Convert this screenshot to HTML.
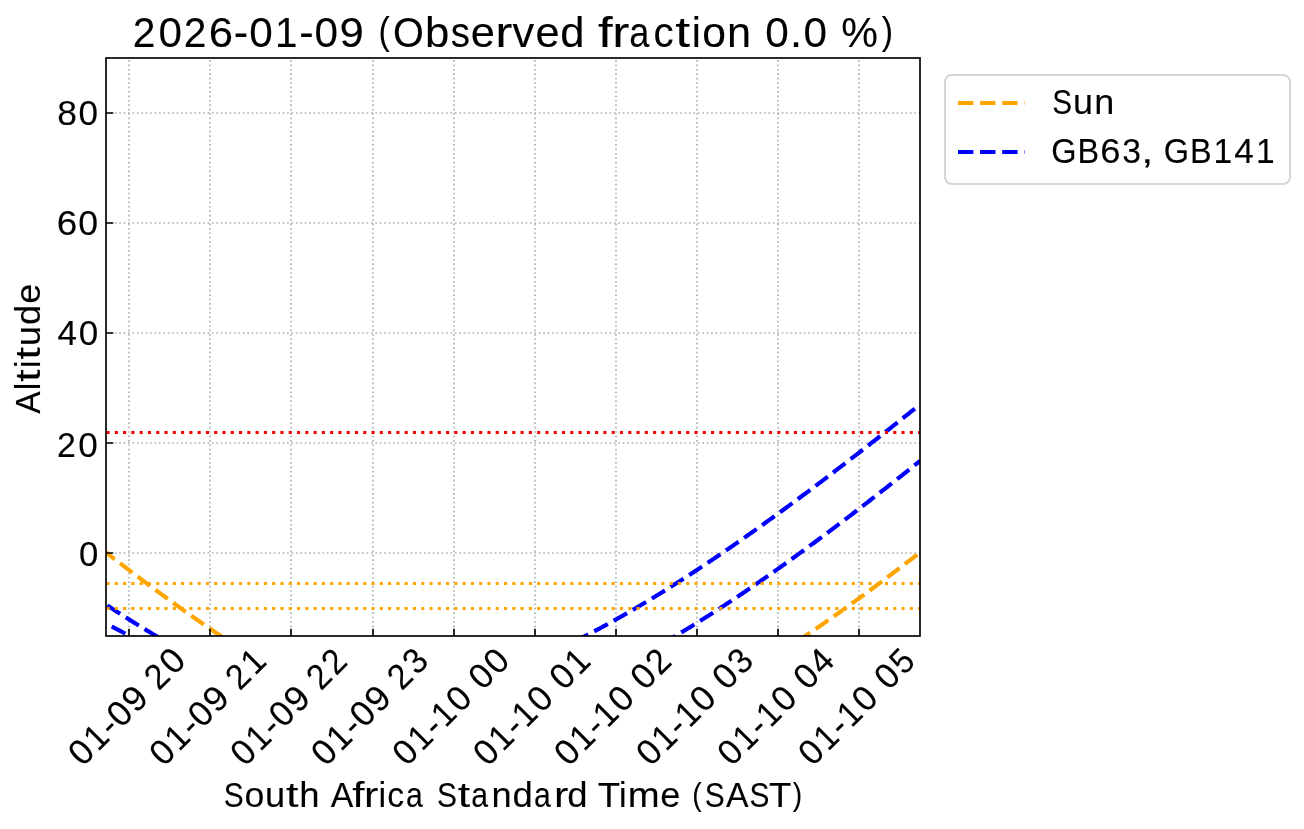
<!DOCTYPE html>
<html><head><meta charset="utf-8"><title>2026-01-09 (Observed fraction 0.0 %)</title>
<style>html,body{margin:0;padding:0;background:#fff;width:1304px;height:829px;overflow:hidden}
svg{will-change:transform}
svg text{font-family:"Liberation Sans",sans-serif;stroke:#000;stroke-width:0.1px}</style></head>
<body>
<svg width="1304" height="829" viewBox="0 0 1304 829" style="display:block">
<rect width="1304" height="829" fill="#fff"/>
<defs><clipPath id="ax"><rect x="106.0" y="58.0" width="814.0" height="578.0"/></clipPath></defs>
<path d="M129 636.0V58.0M210 636.0V58.0M291 636.0V58.0M373 636.0V58.0M454 636.0V58.0M535 636.0V58.0M616 636.0V58.0M697 636.0V58.0M778 636.0V58.0M859 636.0V58.0M105.95 553H920.0M105.95 443H920.0M105.95 333H920.0M105.95 223H920.0M105.95 113H920.0" stroke="#b0b0b0" stroke-width="1.667" stroke-dasharray="1.667 2.75" fill="none"/>
<g clip-path="url(#ax)">
<path d="M106.00 552.46 106.99 553.23 107.99 554.00 108.98 554.76 109.97 555.53 110.96 556.29 111.96 557.06 112.95 557.82 113.94 558.59 114.93 559.35 115.93 560.11 116.92 560.87 117.91 561.63 118.90 562.39 119.90 563.15 120.89 563.91 121.88 564.67 122.87 565.42 123.87 566.18 124.86 566.94 125.85 567.69 126.84 568.44 127.84 569.20 128.83 569.95 129.82 570.70 130.81 571.45 131.81 572.20 132.80 572.95 133.79 573.70 134.79 574.45 135.78 575.20 136.77 575.95 137.76 576.69 138.76 577.44 139.75 578.18 140.74 578.93 141.73 579.67 142.73 580.41 143.72 581.15 144.71 581.89 145.70 582.63 146.70 583.37 147.69 584.11 148.68 584.85 149.67 585.58 150.67 586.32 151.66 587.05 152.65 587.79 153.64 588.52 154.64 589.26 155.63 589.99 156.62 590.72 157.61 591.45 158.61 592.18 159.60 592.91 160.59 593.63 161.59 594.36 162.58 595.09 163.57 595.81 164.56 596.53 165.56 597.26 166.55 597.98 167.54 598.70 168.53 599.42 169.53 600.14 170.52 600.86 171.51 601.58 172.50 602.30 173.50 603.01 174.49 603.73 175.48 604.44 176.47 605.15 177.47 605.87 178.46 606.58 179.45 607.29 180.44 608.00 181.44 608.71 182.43 609.41 183.42 610.12 184.41 610.83 185.41 611.53 186.40 612.23 187.39 612.94 188.39 613.64 189.38 614.34 190.37 615.04 191.36 615.74 192.36 616.44 193.35 617.13 194.34 617.83 195.33 618.52 196.33 619.22 197.32 619.91 198.31 620.60 199.30 621.29 200.30 621.98 201.29 622.67 202.28 623.36 203.27 624.04 204.27 624.73 205.26 625.41 206.25 626.10 207.24 626.78 208.24 627.46 209.23 628.14 210.22 628.82 211.21 629.50 212.21 630.17 213.20 630.85 214.19 631.52 215.19 632.20 216.18 632.87 217.17 633.54 218.16 634.21 219.16 634.88 220.15 635.55 221.14 636.21 222.13 636.88 223.13 637.54 224.12 638.20 225.11 638.87 226.10 639.53 227.10 640.19 228.09 640.84 229.08 641.50 230.07 642.16 231.07 642.81 232.06 643.46 233.05 644.12 234.04 644.77 235.04 645.42 236.03 646.06 237.02 646.71 238.01 647.36 239.01 648.00 240.00 648.64" stroke="#ffa500" stroke-width="4.167" stroke-dasharray="15.417 6.667" stroke-dashoffset="4.34" fill="none"/>
<path d="M790.00 646.05 790.99 645.40 791.98 644.75 792.98 644.10 793.97 643.45 794.96 642.80 795.95 642.15 796.95 641.49 797.94 640.83 798.93 640.17 799.92 639.52 800.92 638.86 801.91 638.19 802.90 637.53 803.89 636.87 804.89 636.20 805.88 635.54 806.87 634.87 807.86 634.20 808.85 633.53 809.85 632.86 810.84 632.19 811.83 631.51 812.82 630.84 813.82 630.16 814.81 629.49 815.80 628.81 816.79 628.13 817.79 627.45 818.78 626.77 819.77 626.09 820.76 625.41 821.76 624.72 822.75 624.04 823.74 623.35 824.73 622.66 825.73 621.98 826.72 621.29 827.71 620.60 828.70 619.90 829.69 619.21 830.69 618.52 831.68 617.82 832.67 617.13 833.66 616.43 834.66 615.73 835.65 615.03 836.64 614.33 837.63 613.63 838.63 612.93 839.62 612.23 840.61 611.53 841.60 610.82 842.60 610.12 843.59 609.41 844.58 608.70 845.57 607.99 846.56 607.28 847.56 606.57 848.55 605.86 849.54 605.15 850.53 604.44 851.53 603.72 852.52 603.01 853.51 602.29 854.50 601.58 855.50 600.86 856.49 600.14 857.48 599.42 858.47 598.70 859.47 597.98 860.46 597.26 861.45 596.53 862.44 595.81 863.44 595.08 864.43 594.36 865.42 593.63 866.41 592.90 867.40 592.18 868.40 591.45 869.39 590.72 870.38 589.99 871.37 589.26 872.37 588.52 873.36 587.79 874.35 587.06 875.34 586.32 876.34 585.59 877.33 584.85 878.32 584.11 879.31 583.37 880.31 582.63 881.30 581.89 882.29 581.15 883.28 580.41 884.27 579.67 885.27 578.93 886.26 578.18 887.25 577.44 888.24 576.70 889.24 575.95 890.23 575.20 891.22 574.46 892.21 573.71 893.21 572.96 894.20 572.21 895.19 571.46 896.18 570.71 897.18 569.96 898.17 569.20 899.16 568.45 900.15 567.70 901.15 566.94 902.14 566.19 903.13 565.43 904.12 564.67 905.11 563.91 906.11 563.16 907.10 562.40 908.09 561.64 909.08 560.88 910.08 560.12 911.07 559.36 912.06 558.59 913.05 557.83 914.05 557.07 915.04 556.30 916.03 555.54 917.02 554.77 918.02 554.00 919.01 553.24 920.00 552.47" stroke="#ffa500" stroke-width="4.167" stroke-dasharray="15.417 6.667" stroke-dashoffset="13.35" fill="none"/>
<path d="M106.00 604.63 106.98 605.28 107.97 605.92 108.95 606.56 109.94 607.20 110.92 607.84 111.91 608.48 112.89 609.12 113.88 609.76 114.86 610.39 115.85 611.03 116.83 611.66 117.82 612.30 118.80 612.93 119.78 613.56 120.77 614.19 121.75 614.81 122.74 615.44 123.72 616.07 124.71 616.69 125.69 617.31 126.68 617.94 127.66 618.56 128.65 619.18 129.63 619.79 130.62 620.41 131.60 621.03 132.58 621.64 133.57 622.26 134.55 622.87 135.54 623.48 136.52 624.09 137.51 624.70 138.49 625.30 139.48 625.91 140.46 626.51 141.45 627.12 142.43 627.72 143.42 628.32 144.40 628.92 145.38 629.52 146.37 630.12 147.35 630.71 148.34 631.30 149.32 631.90 150.31 632.49 151.29 633.08 152.28 633.67 153.26 634.26 154.25 634.84 155.23 635.43 156.22 636.01 157.20 636.59 158.18 637.17 159.17 637.75 160.15 638.33 161.14 638.91 162.12 639.48 163.11 640.05 164.09 640.63 165.08 641.20 166.06 641.77 167.05 642.33 168.03 642.90 169.02 643.47 170.00 644.03" stroke="#00f" stroke-width="4.167" stroke-dasharray="15.417 6.667" stroke-dashoffset="20.64" fill="none"/>
<path d="M106.00 623.29 106.98 623.83 107.96 624.37 108.93 624.90 109.91 625.43 110.89 625.96 111.87 626.49 112.84 627.02 113.82 627.55 114.80 628.08 115.78 628.60 116.76 629.12 117.73 629.64 118.71 630.16 119.69 630.68 120.67 631.20 121.64 631.71 122.62 632.23 123.60 632.74 124.58 633.25 125.56 633.76 126.53 634.27 127.51 634.77 128.49 635.28 129.47 635.78 130.44 636.28 131.42 636.78 132.40 637.28 133.38 637.78 134.36 638.27 135.33 638.77 136.31 639.26 137.29 639.75 138.27 640.24 139.24 640.73 140.22 641.21 141.20 641.70 142.18 642.18 143.16 642.66 144.13 643.14 145.11 643.62 146.09 644.10 147.07 644.57 148.04 645.04 149.02 645.52 150.00 645.99" stroke="#00f" stroke-width="4.167" stroke-dasharray="15.417 6.667" stroke-dashoffset="15.54" fill="none"/>
<path d="M570.00 643.62 571.00 643.13 571.99 642.64 572.99 642.15 573.99 641.66 574.99 641.17 575.98 640.67 576.98 640.17 577.98 639.67 578.97 639.17 579.97 638.67 580.97 638.17 581.97 637.66 582.96 637.15 583.96 636.64 584.96 636.13 585.95 635.62 586.95 635.11 587.95 634.59 588.95 634.08 589.94 633.56 590.94 633.04 591.94 632.52 592.93 631.99 593.93 631.47 594.93 630.94 595.93 630.41 596.92 629.88 597.92 629.35 598.92 628.82 599.91 628.29 600.91 627.75 601.91 627.21 602.91 626.68 603.90 626.14 604.90 625.60 605.90 625.05 606.89 624.51 607.89 623.96 608.89 623.42 609.89 622.87 610.88 622.32 611.88 621.76 612.88 621.21 613.87 620.66 614.87 620.10 615.87 619.54 616.87 618.99 617.86 618.43 618.86 617.86 619.86 617.30 620.85 616.74 621.85 616.17 622.85 615.60 623.85 615.03 624.84 614.47 625.84 613.89 626.84 613.32 627.83 612.75 628.83 612.17 629.83 611.60 630.83 611.02 631.82 610.44 632.82 609.86 633.82 609.28 634.81 608.69 635.81 608.11 636.81 607.52 637.81 606.93 638.80 606.35 639.80 605.76 640.80 605.17 641.79 604.57 642.79 603.98 643.79 603.38 644.79 602.79 645.78 602.19 646.78 601.59 647.78 600.99 648.77 600.39 649.77 599.79 650.77 599.18 651.77 598.58 652.76 597.97 653.76 597.37 654.76 596.76 655.75 596.15 656.75 595.54 657.75 594.93 658.75 594.31 659.74 593.70 660.74 593.08 661.74 592.46 662.74 591.85 663.73 591.23 664.73 590.61 665.73 589.99 666.72 589.36 667.72 588.74 668.72 588.11 669.72 587.49 670.71 586.86 671.71 586.23 672.71 585.60 673.70 584.97 674.70 584.34 675.70 583.71 676.70 583.07 677.69 582.44 678.69 581.80 679.69 581.17 680.68 580.53 681.68 579.89 682.68 579.25 683.68 578.61 684.67 577.96 685.67 577.32 686.67 576.67 687.66 576.03 688.66 575.38 689.66 574.73 690.66 574.08 691.65 573.43 692.65 572.78 693.65 572.13 694.64 571.48 695.64 570.82 696.64 570.17 697.64 569.51 698.63 568.86 699.63 568.20 700.63 567.54 701.62 566.88 702.62 566.22 703.62 565.56 704.62 564.89 705.61 564.23 706.61 563.56 707.61 562.90 708.60 562.23 709.60 561.56 710.60 560.89 711.60 560.22 712.59 559.55 713.59 558.88 714.59 558.21 715.58 557.54 716.58 556.86 717.58 556.19 718.58 555.51 719.57 554.83 720.57 554.15 721.57 553.47 722.56 552.79 723.56 552.11 724.56 551.43 725.56 550.75 726.55 550.06 727.55 549.38 728.55 548.69 729.54 548.01 730.54 547.32 731.54 546.63 732.54 545.94 733.53 545.25 734.53 544.56 735.53 543.87 736.52 543.18 737.52 542.49 738.52 541.79 739.52 541.10 740.51 540.40 741.51 539.71 742.51 539.01 743.50 538.31 744.50 537.61 745.50 536.91 746.50 536.21 747.49 535.51 748.49 534.81 749.49 534.10 750.48 533.40 751.48 532.69 752.48 531.99 753.48 531.28 754.47 530.58 755.47 529.87 756.47 529.16 757.46 528.45 758.46 527.74 759.46 527.03 760.46 526.32 761.45 525.60 762.45 524.89 763.45 524.18 764.44 523.46 765.44 522.75 766.44 522.03 767.44 521.31 768.43 520.60 769.43 519.88 770.43 519.16 771.42 518.44 772.42 517.72 773.42 516.99 774.42 516.27 775.41 515.55 776.41 514.83 777.41 514.10 778.40 513.38 779.40 512.65 780.40 511.92 781.40 511.20 782.39 510.47 783.39 509.74 784.39 509.01 785.38 508.28 786.38 507.55 787.38 506.82 788.38 506.09 789.37 505.35 790.37 504.62 791.37 503.89 792.36 503.15 793.36 502.42 794.36 501.68 795.36 500.94 796.35 500.21 797.35 499.47 798.35 498.73 799.34 497.99 800.34 497.25 801.34 496.51 802.34 495.77 803.33 495.03 804.33 494.28 805.33 493.54 806.32 492.80 807.32 492.05 808.32 491.31 809.32 490.56 810.31 489.81 811.31 489.07 812.31 488.32 813.30 487.57 814.30 486.82 815.30 486.07 816.30 485.32 817.29 484.57 818.29 483.82 819.29 483.07 820.28 482.32 821.28 481.57 822.28 480.81 823.28 480.06 824.27 479.30 825.27 478.55 826.27 477.79 827.26 477.03 828.26 476.28 829.26 475.52 830.26 474.76 831.25 474.00 832.25 473.24 833.25 472.48 834.25 471.72 835.24 470.96 836.24 470.20 837.24 469.44 838.23 468.68 839.23 467.91 840.23 467.15 841.23 466.39 842.22 465.62 843.22 464.86 844.22 464.09 845.21 463.32 846.21 462.56 847.21 461.79 848.21 461.02 849.20 460.25 850.20 459.48 851.20 458.71 852.19 457.94 853.19 457.17 854.19 456.40 855.19 455.63 856.18 454.86 857.18 454.09 858.18 453.31 859.17 452.54 860.17 451.76 861.17 450.99 862.17 450.21 863.16 449.44 864.16 448.66 865.16 447.89 866.15 447.11 867.15 446.33 868.15 445.55 869.15 444.78 870.14 444.00 871.14 443.22 872.14 442.44 873.13 441.66 874.13 440.88 875.13 440.09 876.13 439.31 877.12 438.53 878.12 437.75 879.12 436.96 880.11 436.18 881.11 435.40 882.11 434.61 883.11 433.83 884.10 433.04 885.10 432.26 886.10 431.47 887.09 430.68 888.09 429.90 889.09 429.11 890.09 428.32 891.08 427.53 892.08 426.74 893.08 425.95 894.07 425.16 895.07 424.37 896.07 423.58 897.07 422.79 898.06 422.00 899.06 421.21 900.06 420.42 901.05 419.62 902.05 418.83 903.05 418.04 904.05 417.24 905.04 416.45 906.04 415.65 907.04 414.86 908.03 414.06 909.03 413.27 910.03 412.47 911.03 411.67 912.02 410.88 913.02 410.08 914.02 409.28 915.01 408.48 916.01 407.68 917.01 406.88 918.01 406.08 919.00 405.28 920.00 404.48" stroke="#00f" stroke-width="4.167" stroke-dasharray="15.417 6.667" stroke-dashoffset="16.99" fill="none"/>
<path d="M660.00 644.92 661.00 644.35 661.99 643.79 662.99 643.21 663.98 642.64 664.98 642.07 665.98 641.49 666.97 640.92 667.97 640.34 668.97 639.76 669.96 639.18 670.96 638.60 671.95 638.01 672.95 637.43 673.95 636.84 674.94 636.25 675.94 635.66 676.93 635.07 677.93 634.48 678.93 633.88 679.92 633.29 680.92 632.69 681.92 632.09 682.91 631.49 683.91 630.89 684.90 630.29 685.90 629.69 686.90 629.08 687.89 628.48 688.89 627.87 689.89 627.26 690.88 626.65 691.88 626.04 692.87 625.43 693.87 624.81 694.87 624.20 695.86 623.58 696.86 622.96 697.85 622.34 698.85 621.72 699.85 621.10 700.84 620.48 701.84 619.85 702.84 619.23 703.83 618.60 704.83 617.97 705.82 617.35 706.82 616.71 707.82 616.08 708.81 615.45 709.81 614.82 710.80 614.18 711.80 613.54 712.80 612.91 713.79 612.27 714.79 611.63 715.79 610.99 716.78 610.34 717.78 609.70 718.77 609.06 719.77 608.41 720.77 607.76 721.76 607.11 722.76 606.47 723.75 605.82 724.75 605.16 725.75 604.51 726.74 603.86 727.74 603.20 728.74 602.55 729.73 601.89 730.73 601.23 731.72 600.57 732.72 599.91 733.72 599.25 734.71 598.59 735.71 597.92 736.70 597.26 737.70 596.59 738.70 595.93 739.69 595.26 740.69 594.59 741.69 593.92 742.68 593.25 743.68 592.57 744.67 591.90 745.67 591.23 746.67 590.55 747.66 589.88 748.66 589.20 749.66 588.52 750.65 587.84 751.65 587.16 752.64 586.48 753.64 585.80 754.64 585.11 755.63 584.43 756.63 583.74 757.62 583.06 758.62 582.37 759.62 581.68 760.61 580.99 761.61 580.30 762.61 579.61 763.60 578.92 764.60 578.23 765.59 577.53 766.59 576.84 767.59 576.14 768.58 575.45 769.58 574.75 770.57 574.05 771.57 573.35 772.57 572.65 773.56 571.95 774.56 571.25 775.56 570.55 776.55 569.84 777.55 569.14 778.54 568.43 779.54 567.73 780.54 567.02 781.53 566.31 782.53 565.60 783.52 564.89 784.52 564.18 785.52 563.47 786.51 562.76 787.51 562.04 788.51 561.33 789.50 560.61 790.50 559.90 791.49 559.18 792.49 558.46 793.49 557.74 794.48 557.03 795.48 556.31 796.48 555.59 797.47 554.86 798.47 554.14 799.46 553.42 800.46 552.69 801.46 551.97 802.45 551.24 803.45 550.52 804.44 549.79 805.44 549.06 806.44 548.33 807.43 547.60 808.43 546.87 809.43 546.14 810.42 545.41 811.42 544.68 812.41 543.94 813.41 543.21 814.41 542.48 815.40 541.74 816.40 541.00 817.39 540.27 818.39 539.53 819.39 538.79 820.38 538.05 821.38 537.31 822.38 536.57 823.37 535.83 824.37 535.09 825.36 534.35 826.36 533.60 827.36 532.86 828.35 532.11 829.35 531.37 830.34 530.62 831.34 529.87 832.34 529.13 833.33 528.38 834.33 527.63 835.33 526.88 836.32 526.13 837.32 525.38 838.31 524.63 839.31 523.87 840.31 523.12 841.30 522.37 842.30 521.61 843.30 520.86 844.29 520.10 845.29 519.35 846.28 518.59 847.28 517.83 848.28 517.07 849.27 516.31 850.27 515.56 851.26 514.80 852.26 514.03 853.26 513.27 854.25 512.51 855.25 511.75 856.25 510.99 857.24 510.22 858.24 509.46 859.23 508.69 860.23 507.93 861.23 507.16 862.22 506.39 863.22 505.63 864.21 504.86 865.21 504.09 866.21 503.32 867.20 502.55 868.20 501.78 869.20 501.01 870.19 500.24 871.19 499.47 872.18 498.69 873.18 497.92 874.18 497.15 875.17 496.37 876.17 495.60 877.16 494.82 878.16 494.05 879.16 493.27 880.15 492.49 881.15 491.72 882.15 490.94 883.14 490.16 884.14 489.38 885.13 488.60 886.13 487.82 887.13 487.04 888.12 486.26 889.12 485.47 890.11 484.69 891.11 483.91 892.11 483.13 893.10 482.34 894.10 481.56 895.10 480.77 896.09 479.99 897.09 479.20 898.08 478.41 899.08 477.63 900.08 476.84 901.07 476.05 902.07 475.26 903.07 474.47 904.06 473.69 905.06 472.90 906.05 472.10 907.05 471.31 908.05 470.52 909.04 469.73 910.04 468.94 911.03 468.15 912.03 467.35 913.03 466.56 914.02 465.76 915.02 464.97 916.02 464.17 917.01 463.38 918.01 462.58 919.00 461.79 920.00 460.99" stroke="#00f" stroke-width="4.167" stroke-dasharray="15.417 6.667" stroke-dashoffset="19.56" fill="none"/>
<path d="M106.5 432.5H920.0" stroke="#f00" stroke-width="3.125" stroke-dasharray="3.125 5.156" fill="none"/>
<path d="M106.5 583.5H920.0" stroke="#ffa500" stroke-width="3.125" stroke-dasharray="3.125 5.156" fill="none"/>
<path d="M106.5 608.5H920.0" stroke="#ffa500" stroke-width="3.125" stroke-dasharray="3.125 5.156" fill="none"/>
</g>
<rect x="106.0" y="58.0" width="814.0" height="578.0" fill="none" stroke="#000" stroke-width="1.667"/>
<path d="M129 636.0v-7.29M210 636.0v-7.29M291 636.0v-7.29M373 636.0v-7.29M454 636.0v-7.29M535 636.0v-7.29M616 636.0v-7.29M697 636.0v-7.29M778 636.0v-7.29M859 636.0v-7.29M106.0 553h7.29M106.0 443h7.29M106.0 333h7.29M106.0 223h7.29M106.0 113h7.29" stroke="#000" stroke-width="1.667" fill="none"/>
<g fill="#000">
<text transform="translate(0,565.850) scale(0.97631,1)" font-size="35.631"><tspan x="81.04" y="0.00" textLength="19.819" lengthAdjust="spacingAndGlyphs">0</tspan></text>
<text transform="translate(0,456.550) scale(0.96798,1)" font-size="35.946"><tspan x="58.78" y="0.00" textLength="19.460" lengthAdjust="spacingAndGlyphs">2</tspan><tspan x="80.81" y="0.00" textLength="20.189" lengthAdjust="spacingAndGlyphs">0</tspan></text>
<text transform="translate(0,345.400) scale(0.96983,1)" font-size="35.907"><tspan x="59.42" y="0.00" textLength="20.077" lengthAdjust="spacingAndGlyphs">4</tspan><tspan x="81.32" y="0.00" textLength="20.074" lengthAdjust="spacingAndGlyphs">0</tspan></text>
<text transform="translate(0,235.450) scale(0.98590,1)" font-size="35.963"><tspan x="57.62" y="0.00" textLength="20.813" lengthAdjust="spacingAndGlyphs">6</tspan><tspan x="79.51" y="0.00" textLength="20.110" lengthAdjust="spacingAndGlyphs">0</tspan></text>
<text transform="translate(0,125.450) scale(0.98842,1)" font-size="35.597"><tspan x="57.93" y="0.00" textLength="19.985" lengthAdjust="spacingAndGlyphs">8</tspan><tspan x="79.52" y="0.00" textLength="19.771" lengthAdjust="spacingAndGlyphs">0</tspan></text>
<text transform="rotate(-45) translate(0,601.170) scale(0.97202,1)" font-size="35.645"><tspan x="-498.10" y="0.00" textLength="20.095" lengthAdjust="spacingAndGlyphs">0</tspan><tspan x="-475.97" y="0.00" textLength="19.193" lengthAdjust="spacingAndGlyphs">1</tspan><tspan x="-455.23" y="0.00" textLength="12.305" lengthAdjust="spacingAndGlyphs">-</tspan><tspan x="-442.02" y="0.00" textLength="20.095" lengthAdjust="spacingAndGlyphs">0</tspan><tspan x="-420.62" y="0.00" textLength="20.756" lengthAdjust="spacingAndGlyphs">9</tspan><tspan x="-398.69" y="0"> </tspan><tspan x="-387.51" y="0.00" textLength="19.370" lengthAdjust="spacingAndGlyphs">2</tspan><tspan x="-365.57" y="0.00" textLength="20.095" lengthAdjust="spacingAndGlyphs">0</tspan></text>
<text transform="rotate(-45) translate(0,658.446) scale(0.98717,1)" font-size="35.113"><tspan x="-432.47" y="0.00" textLength="19.759" lengthAdjust="spacingAndGlyphs">0</tspan><tspan x="-410.68" y="0.00" textLength="18.872" lengthAdjust="spacingAndGlyphs">1</tspan><tspan x="-390.27" y="0.00" textLength="12.099" lengthAdjust="spacingAndGlyphs">-</tspan><tspan x="-377.25" y="0.00" textLength="19.759" lengthAdjust="spacingAndGlyphs">0</tspan><tspan x="-356.18" y="0.00" textLength="20.409" lengthAdjust="spacingAndGlyphs">9</tspan><tspan x="-334.60" y="0"> </tspan><tspan x="-323.58" y="0.00" textLength="19.046" lengthAdjust="spacingAndGlyphs">2</tspan><tspan x="-301.69" y="0.00" textLength="18.872" lengthAdjust="spacingAndGlyphs">1</tspan></text>
<text transform="rotate(-45) translate(0,715.921) scale(0.96776,1)" font-size="35.712"><tspan x="-381.88" y="0.00" textLength="19.890" lengthAdjust="spacingAndGlyphs">0</tspan><tspan x="-359.65" y="0.00" textLength="18.997" lengthAdjust="spacingAndGlyphs">1</tspan><tspan x="-338.88" y="0.00" textLength="12.179" lengthAdjust="spacingAndGlyphs">-</tspan><tspan x="-325.56" y="0.00" textLength="19.890" lengthAdjust="spacingAndGlyphs">0</tspan><tspan x="-304.05" y="0.00" textLength="20.544" lengthAdjust="spacingAndGlyphs">9</tspan><tspan x="-282.16" y="0"> </tspan><tspan x="-270.81" y="0.00" textLength="19.172" lengthAdjust="spacingAndGlyphs">2</tspan><tspan x="-248.86" y="0.00" textLength="19.172" lengthAdjust="spacingAndGlyphs">2</tspan></text>
<text transform="rotate(-45) translate(0,773.009) scale(0.97081,1)" font-size="35.645"><tspan x="-321.78" y="0.00" textLength="20.120" lengthAdjust="spacingAndGlyphs">0</tspan><tspan x="-299.62" y="0.00" textLength="19.217" lengthAdjust="spacingAndGlyphs">1</tspan><tspan x="-278.85" y="0.00" textLength="12.320" lengthAdjust="spacingAndGlyphs">-</tspan><tspan x="-265.63" y="0.00" textLength="20.120" lengthAdjust="spacingAndGlyphs">0</tspan><tspan x="-244.20" y="0.00" textLength="20.782" lengthAdjust="spacingAndGlyphs">9</tspan><tspan x="-222.23" y="0"> </tspan><tspan x="-211.05" y="0.00" textLength="19.394" lengthAdjust="spacingAndGlyphs">2</tspan><tspan x="-188.64" y="0.00" textLength="19.323" lengthAdjust="spacingAndGlyphs">3</tspan></text>
<text transform="rotate(-45) translate(0,830.185) scale(0.98319,1)" font-size="35.063"><tspan x="-259.37" y="0.00" textLength="19.653" lengthAdjust="spacingAndGlyphs">0</tspan><tspan x="-237.48" y="0.00" textLength="18.770" lengthAdjust="spacingAndGlyphs">1</tspan><tspan x="-217.02" y="0.00" textLength="12.034" lengthAdjust="spacingAndGlyphs">-</tspan><tspan x="-203.64" y="0.00" textLength="18.770" lengthAdjust="spacingAndGlyphs">1</tspan><tspan x="-182.33" y="0.00" textLength="19.653" lengthAdjust="spacingAndGlyphs">0</tspan><tspan x="-161.16" y="0"> </tspan><tspan x="-149.94" y="0.00" textLength="19.653" lengthAdjust="spacingAndGlyphs">0</tspan><tspan x="-128.34" y="0.00" textLength="19.653" lengthAdjust="spacingAndGlyphs">0</tspan></text>
<text transform="rotate(-45) translate(0,887.660) scale(0.95733,1)" font-size="35.658"><tspan x="-206.54" y="0.00" textLength="20.279" lengthAdjust="spacingAndGlyphs">0</tspan><tspan x="-184.07" y="0.00" textLength="19.368" lengthAdjust="spacingAndGlyphs">1</tspan><tspan x="-163.03" y="0.00" textLength="12.417" lengthAdjust="spacingAndGlyphs">-</tspan><tspan x="-149.31" y="0.00" textLength="19.368" lengthAdjust="spacingAndGlyphs">1</tspan><tspan x="-127.42" y="0.00" textLength="20.279" lengthAdjust="spacingAndGlyphs">0</tspan><tspan x="-105.59" y="0"> </tspan><tspan x="-94.16" y="0.00" textLength="20.279" lengthAdjust="spacingAndGlyphs">0</tspan><tspan x="-71.68" y="0.00" textLength="19.368" lengthAdjust="spacingAndGlyphs">1</tspan></text>
<text transform="rotate(-45) translate(0,944.936) scale(0.96612,1)" font-size="35.660"><tspan x="-145.39" y="0.00" textLength="20.227" lengthAdjust="spacingAndGlyphs">0</tspan><tspan x="-123.12" y="0.00" textLength="19.319" lengthAdjust="spacingAndGlyphs">1</tspan><tspan x="-102.26" y="0.00" textLength="12.386" lengthAdjust="spacingAndGlyphs">-</tspan><tspan x="-88.68" y="0.00" textLength="19.319" lengthAdjust="spacingAndGlyphs">1</tspan><tspan x="-66.99" y="0.00" textLength="20.227" lengthAdjust="spacingAndGlyphs">0</tspan><tspan x="-45.33" y="0"> </tspan><tspan x="-34.03" y="0.00" textLength="20.227" lengthAdjust="spacingAndGlyphs">0</tspan><tspan x="-12.14" y="0.00" textLength="19.497" lengthAdjust="spacingAndGlyphs">2</tspan></text>
<text transform="rotate(-45) translate(0,1002.807) scale(0.97359,1)" font-size="35.610"><tspan x="-84.86" y="0.00" textLength="20.147" lengthAdjust="spacingAndGlyphs">0</tspan><tspan x="-62.76" y="0.00" textLength="19.243" lengthAdjust="spacingAndGlyphs">1</tspan><tspan x="-42.04" y="0.00" textLength="12.337" lengthAdjust="spacingAndGlyphs">-</tspan><tspan x="-28.58" y="0.00" textLength="19.243" lengthAdjust="spacingAndGlyphs">1</tspan><tspan x="-7.06" y="0.00" textLength="20.147" lengthAdjust="spacingAndGlyphs">0</tspan><tspan x="14.44" y="0"> </tspan><tspan x="25.65" y="0.00" textLength="20.147" lengthAdjust="spacingAndGlyphs">0</tspan><tspan x="47.90" y="0.00" textLength="19.349" lengthAdjust="spacingAndGlyphs">3</tspan></text>
<text transform="rotate(-45) translate(0,1059.982) scale(0.98865,1)" font-size="35.119"><tspan x="-25.44" y="0.00" textLength="19.470" lengthAdjust="spacingAndGlyphs">0</tspan><tspan x="-3.67" y="0.00" textLength="18.595" lengthAdjust="spacingAndGlyphs">1</tspan><tspan x="16.66" y="0.00" textLength="11.922" lengthAdjust="spacingAndGlyphs">-</tspan><tspan x="29.99" y="0.00" textLength="18.595" lengthAdjust="spacingAndGlyphs">1</tspan><tspan x="51.18" y="0.00" textLength="19.470" lengthAdjust="spacingAndGlyphs">0</tspan><tspan x="72.15" y="0"> </tspan><tspan x="83.39" y="0.00" textLength="19.470" lengthAdjust="spacingAndGlyphs">0</tspan><tspan x="104.86" y="0.00" textLength="19.472" lengthAdjust="spacingAndGlyphs">4</tspan></text>
<text transform="rotate(-45) translate(0,1117.258) scale(0.98614,1)" font-size="35.343"><tspan x="32.57" y="0.00" textLength="19.519" lengthAdjust="spacingAndGlyphs">0</tspan><tspan x="54.38" y="0.00" textLength="18.643" lengthAdjust="spacingAndGlyphs">1</tspan><tspan x="74.77" y="0.00" textLength="11.952" lengthAdjust="spacingAndGlyphs">-</tspan><tspan x="88.13" y="0.00" textLength="18.643" lengthAdjust="spacingAndGlyphs">1</tspan><tspan x="109.38" y="0.00" textLength="19.519" lengthAdjust="spacingAndGlyphs">0</tspan><tspan x="130.39" y="0"> </tspan><tspan x="141.67" y="0.00" textLength="19.519" lengthAdjust="spacingAndGlyphs">0</tspan><tspan x="163.62" y="0.00" textLength="18.422" lengthAdjust="spacingAndGlyphs">5</tspan></text>
<text transform="translate(0,47.100) scale(0.99722,1)" font-size="42.676"><tspan x="133.22" y="0.00" textLength="22.752" lengthAdjust="spacingAndGlyphs">2</tspan><tspan x="158.84" y="0.00" textLength="23.604" lengthAdjust="spacingAndGlyphs">0</tspan><tspan x="184.26" y="0.00" textLength="22.752" lengthAdjust="spacingAndGlyphs">2</tspan><tspan x="209.46" y="0.00" textLength="24.430" lengthAdjust="spacingAndGlyphs">6</tspan><tspan x="234.46" y="0.00" textLength="14.453" lengthAdjust="spacingAndGlyphs">-</tspan><tspan x="249.87" y="0.00" textLength="23.604" lengthAdjust="spacingAndGlyphs">0</tspan><tspan x="275.73" y="0.00" textLength="22.544" lengthAdjust="spacingAndGlyphs">1</tspan><tspan x="299.97" y="0.00" textLength="14.453" lengthAdjust="spacingAndGlyphs">-</tspan><tspan x="315.39" y="0.00" textLength="23.604" lengthAdjust="spacingAndGlyphs">0</tspan><tspan x="340.39" y="0.00" textLength="24.380" lengthAdjust="spacingAndGlyphs">9</tspan><tspan x="365.93" y="0"> </tspan><tspan x="379.55" y="-2.64" font-size="38.239" textLength="11.333" lengthAdjust="spacingAndGlyphs">(</tspan><tspan x="394.19" y="0.00" textLength="30.959" lengthAdjust="spacingAndGlyphs">O</tspan><tspan x="426.23" y="0.00" textLength="24.361" lengthAdjust="spacingAndGlyphs">b</tspan><tspan x="451.98" y="0.00" textLength="19.297" lengthAdjust="spacingAndGlyphs">s</tspan><tspan x="472.14" y="0.00" textLength="24.186" lengthAdjust="spacingAndGlyphs">e</tspan><tspan x="496.68" y="0.00" textLength="17.178" lengthAdjust="spacingAndGlyphs">r</tspan><tspan x="513.98" y="0.00" textLength="21.726" lengthAdjust="spacingAndGlyphs">v</tspan><tspan x="537.04" y="0.00" textLength="24.186" lengthAdjust="spacingAndGlyphs">e</tspan><tspan x="561.73" y="0.00" textLength="24.337" lengthAdjust="spacingAndGlyphs">d</tspan><tspan x="587.30" y="0"> </tspan><tspan x="599.75" y="0.00" textLength="14.688" lengthAdjust="spacingAndGlyphs">f</tspan><tspan x="613.92" y="0.00" textLength="17.178" lengthAdjust="spacingAndGlyphs">r</tspan><tspan x="631.06" y="0.00" textLength="20.136" lengthAdjust="spacingAndGlyphs">a</tspan><tspan x="655.26" y="0.00" textLength="20.199" lengthAdjust="spacingAndGlyphs">c</tspan><tspan x="677.09" y="0.00" textLength="14.950" lengthAdjust="spacingAndGlyphs">t</tspan><tspan x="693.60" y="0.00" textLength="9.144" lengthAdjust="spacingAndGlyphs">i</tspan><tspan x="704.10" y="0.00" textLength="23.804" lengthAdjust="spacingAndGlyphs">o</tspan><tspan x="728.99" y="0.00" textLength="24.142" lengthAdjust="spacingAndGlyphs">n</tspan><tspan x="754.13" y="0"> </tspan><tspan x="767.39" y="0.00" textLength="23.604" lengthAdjust="spacingAndGlyphs">0</tspan><tspan x="792.26" y="0.00" textLength="12.104" lengthAdjust="spacingAndGlyphs">.</tspan><tspan x="805.66" y="0.00" textLength="23.604" lengthAdjust="spacingAndGlyphs">0</tspan><tspan x="830.67" y="0"> </tspan><tspan x="843.65" y="0.00" textLength="36.761" lengthAdjust="spacingAndGlyphs">%</tspan><tspan x="884.09" y="-2.64" font-size="38.239" textLength="11.333" lengthAdjust="spacingAndGlyphs">)</tspan></text>
<text transform="translate(0,807.000) scale(1.00375,1)" font-size="34.672"><tspan x="222.94" y="0.00" textLength="19.893" lengthAdjust="spacingAndGlyphs">S</tspan><tspan x="243.55" y="0.00" textLength="19.781" lengthAdjust="spacingAndGlyphs">o</tspan><tspan x="264.04" y="0.00" textLength="20.062" lengthAdjust="spacingAndGlyphs">u</tspan><tspan x="284.86" y="0.00" textLength="12.424" lengthAdjust="spacingAndGlyphs">t</tspan><tspan x="298.17" y="0.00" textLength="20.201" lengthAdjust="spacingAndGlyphs">h</tspan><tspan x="319.26" y="0"> </tspan><tspan x="329.48" y="0.00" textLength="22.480" lengthAdjust="spacingAndGlyphs">A</tspan><tspan x="350.97" y="0.00" textLength="12.206" lengthAdjust="spacingAndGlyphs">f</tspan><tspan x="362.71" y="0.00" textLength="14.275" lengthAdjust="spacingAndGlyphs">r</tspan><tspan x="377.08" y="0.00" textLength="7.598" lengthAdjust="spacingAndGlyphs">i</tspan><tspan x="385.84" y="0.00" textLength="16.786" lengthAdjust="spacingAndGlyphs">c</tspan><tspan x="404.43" y="0.00" textLength="16.733" lengthAdjust="spacingAndGlyphs">a</tspan><tspan x="424.60" y="0"> </tspan><tspan x="435.48" y="0.00" textLength="19.893" lengthAdjust="spacingAndGlyphs">S</tspan><tspan x="455.99" y="0.00" textLength="12.424" lengthAdjust="spacingAndGlyphs">t</tspan><tspan x="469.51" y="0.00" textLength="16.733" lengthAdjust="spacingAndGlyphs">a</tspan><tspan x="489.79" y="0.00" textLength="20.062" lengthAdjust="spacingAndGlyphs">n</tspan><tspan x="510.55" y="0.00" textLength="20.224" lengthAdjust="spacingAndGlyphs">d</tspan><tspan x="532.07" y="0.00" textLength="16.733" lengthAdjust="spacingAndGlyphs">a</tspan><tspan x="551.92" y="0.00" textLength="14.275" lengthAdjust="spacingAndGlyphs">r</tspan><tspan x="565.08" y="0.00" textLength="20.224" lengthAdjust="spacingAndGlyphs">d</tspan><tspan x="586.40" y="0"> </tspan><tspan x="595.51" y="0.00" textLength="22.290" lengthAdjust="spacingAndGlyphs">T</tspan><tspan x="616.65" y="0.00" textLength="7.598" lengthAdjust="spacingAndGlyphs">i</tspan><tspan x="625.45" y="0.00" textLength="31.755" lengthAdjust="spacingAndGlyphs">m</tspan><tspan x="657.68" y="0.00" textLength="20.099" lengthAdjust="spacingAndGlyphs">e</tspan><tspan x="678.37" y="0"> </tspan><tspan x="689.55" y="-2.20" font-size="31.866" textLength="9.418" lengthAdjust="spacingAndGlyphs">(</tspan><tspan x="702.22" y="0.00" textLength="19.893" lengthAdjust="spacingAndGlyphs">S</tspan><tspan x="723.29" y="0.00" textLength="22.480" lengthAdjust="spacingAndGlyphs">A</tspan><tspan x="746.69" y="0.00" textLength="19.893" lengthAdjust="spacingAndGlyphs">S</tspan><tspan x="766.04" y="0.00" textLength="22.290" lengthAdjust="spacingAndGlyphs">T</tspan><tspan x="789.81" y="-2.20" font-size="31.866" textLength="9.418" lengthAdjust="spacingAndGlyphs">)</tspan></text>
<text transform="rotate(-90) translate(0,40.200) scale(1.04158,1)" font-size="35.455"><tspan x="-397.35" y="0.00" textLength="21.523" lengthAdjust="spacingAndGlyphs">A</tspan><tspan x="-374.80" y="0.00" textLength="7.275" lengthAdjust="spacingAndGlyphs">l</tspan><tspan x="-366.50" y="0.00" textLength="11.895" lengthAdjust="spacingAndGlyphs">t</tspan><tspan x="-353.32" y="0.00" textLength="7.275" lengthAdjust="spacingAndGlyphs">i</tspan><tspan x="-345.04" y="0.00" textLength="11.895" lengthAdjust="spacingAndGlyphs">t</tspan><tspan x="-332.21" y="0.00" textLength="19.207" lengthAdjust="spacingAndGlyphs">u</tspan><tspan x="-312.07" y="0.00" textLength="19.362" lengthAdjust="spacingAndGlyphs">d</tspan><tspan x="-291.74" y="0.00" textLength="19.242" lengthAdjust="spacingAndGlyphs">e</tspan></text>
</g>
<rect x="945" y="75" width="345" height="109" rx="6.667" ry="6.667" fill="#fff" stroke="#d6d6d6" stroke-width="2.0"/>
<path d="M958 103H1024.67" stroke="#ffa500" stroke-width="4.167" stroke-dasharray="15.417 6.667" fill="none"/>
<path d="M958 152H1024.67" stroke="#00f" stroke-width="4.167" stroke-dasharray="15.417 6.667" fill="none"/>
<g fill="#000">
<text transform="translate(0,113.650) scale(0.96870,1)" font-size="34.815"><tspan x="1086.25" y="0.00" textLength="20.460" lengthAdjust="spacingAndGlyphs">S</tspan><tspan x="1107.76" y="0.00" textLength="20.633" lengthAdjust="spacingAndGlyphs">u</tspan><tspan x="1129.74" y="0.00" textLength="20.633" lengthAdjust="spacingAndGlyphs">n</tspan></text>
<text transform="translate(0,163.250) scale(0.93837,1)" font-size="35.635"><tspan x="1120.39" y="0.00" textLength="26.949" lengthAdjust="spacingAndGlyphs">G</tspan><tspan x="1148.36" y="0.00" textLength="23.019" lengthAdjust="spacingAndGlyphs">B</tspan><tspan x="1172.61" y="0.00" textLength="21.554" lengthAdjust="spacingAndGlyphs">6</tspan><tspan x="1196.07" y="0.00" textLength="20.000" lengthAdjust="spacingAndGlyphs">3</tspan><tspan x="1216.20" y="0.00" textLength="12.871" lengthAdjust="spacingAndGlyphs">,</tspan><tspan x="1229.36" y="0"> </tspan><tspan x="1240.22" y="0.00" textLength="26.949" lengthAdjust="spacingAndGlyphs">G</tspan><tspan x="1268.19" y="0.00" textLength="23.019" lengthAdjust="spacingAndGlyphs">B</tspan><tspan x="1293.11" y="0.00" textLength="19.890" lengthAdjust="spacingAndGlyphs">1</tspan><tspan x="1315.44" y="0.00" textLength="20.828" lengthAdjust="spacingAndGlyphs">4</tspan><tspan x="1338.37" y="0.00" textLength="19.890" lengthAdjust="spacingAndGlyphs">1</tspan></text>
</g>
</svg>
</body></html>
